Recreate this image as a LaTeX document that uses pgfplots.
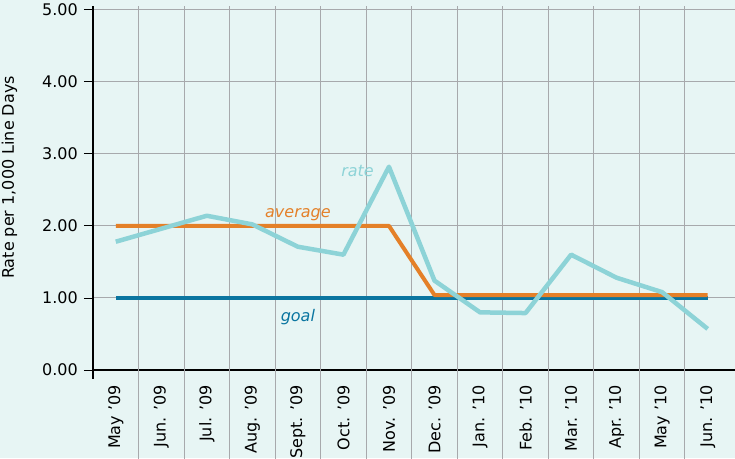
\documentclass[border=0pt]{standalone}
\usepackage{pgfplots}
\pgfplotsset{compat=1.18}
\usepackage{fontspec}
\setmainfont{DejaVu Sans}
\definecolor{bgc}{RGB}{231,245,244}
\definecolor{gridc}{RGB}{167,169,172}
\definecolor{avgc}{RGB}{228,128,40}
\definecolor{goalc}{RGB}{10,117,160}
\definecolor{ratec}{RGB}{141,211,215}
\pgfplotstableread{
x rate avg goal
0 1.78 2.00 1.00
1 1.96 2.00 1.00
2 2.14 2.00 1.00
3 2.02 2.00 1.00
4 1.71 2.00 1.00
5 1.60 2.00 1.00
6 2.82 2.00 1.00
7 1.24 1.04 1.00
8 0.80 1.04 1.00
9 0.79 1.04 1.00
10 1.60 1.04 1.00
11 1.28 1.04 1.00
12 1.08 1.04 1.00
13 0.57 1.04 1.00
}\data
\begin{document}
\begin{tikzpicture}
\fill[bgc] (-93pt,-88pt) rectangle (642pt,370pt);
\begin{axis}[
  name=ax, at={(0,0)}, anchor=south west,
  scale only axis, width=642pt, height=364pt,
  xmin=-0.5, xmax=13.6, ymin=0, ymax=5.05,
  axis x line=bottom, axis y line=left,
  axis line style={black, line width=1.3pt, -},
  clip=false,
  font=\fontsize{16}{18}\selectfont,
  xtick={0,...,13},
  xticklabels={May ’09,Jun. ’09,Jul. ’09,Aug. ’09,Sept. ’09,Oct. ’09,Nov. ’09,Dec. ’09,Jan. ’10,Feb. ’10,Mar. ’10,Apr. ’10,May ’10,Jun. ’10},
  xtick style={draw=none},
  xticklabel style={rotate=90, anchor=east, inner sep=0pt},
  xticklabel shift=6pt,
  ytick={0,1,2,3,4,5},
  yticklabels={0.00,1.00,2.00,3.00,4.00,5.00},
  ytick style={black, line width=0.8pt},
  tick align=outside, major tick length=9pt,
  yticklabel style={inner sep=0pt},
  yticklabel shift=6pt,
  ymajorgrids, major grid style={gridc, line width=1pt},
  ylabel={Rate per 1,000 Line Days},
  every axis y label/.style={at={(axis description cs:-0.13,0.529)}, rotate=90, anchor=center},
]
\pgfplotsinvokeforeach{0.5,1.5,2.5,3.5,4.5,5.5,6.5,7.5,8.5,9.5,10.5,11.5,12.5}{
  \draw[gridc, line width=1pt] (axis cs:#1,-1.23) -- (axis cs:#1,5.05);
}
\draw[black, line width=1.3pt] (axis cs:-0.5,0) -- (axis cs:-0.5,-0.12);
\addplot[goalc, line width=4.5pt, line join=round] table[x=x, y=goal] {\data};
\addplot[avgc, line width=4pt, line join=round] table[x=x, y=avg] {\data};
\addplot[ratec, line width=4.5pt, line join=round] table[x=x, y=rate] {\data};
\node[ratec, font=\fontsize{16}{18}\selectfont\itshape] at (axis cs:5.31,2.76) {rate};
\node[avgc, font=\fontsize{16}{18}\selectfont\itshape] at (axis cs:4.0,2.16) {average};
\node[goalc, font=\fontsize{16}{18}\selectfont\itshape] at (axis cs:4.0,0.73) {goal};
\end{axis}
\pgfresetboundingbox
\useasboundingbox (-93pt,-88pt) rectangle (642pt,370pt);
\end{tikzpicture}
\end{document}
